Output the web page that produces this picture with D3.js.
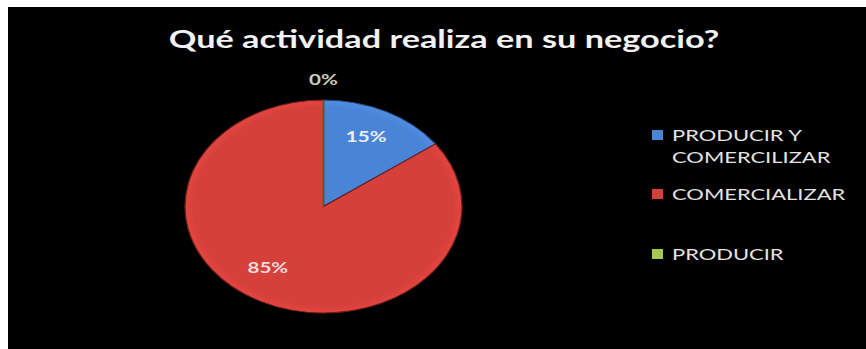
<!DOCTYPE html>
<html>
<head>
<meta charset="utf-8">
<script src="https://cdn.jsdelivr.net/npm/d3@7"></script>
<style>
  html, body { margin: 0; padding: 0; background: #ffffff; }
  svg { display: block; }
  text { font-family: Lato, "Open Sans", "DejaVu Sans", sans-serif; }
</style>
</head>
<body>
<svg id="chart" width="866" height="349"></svg>
<script>
// Survey answers: what activity does the business do?
const title = "Qué actividad realiza en su negocio?";
const categories = ["PRODUCIR Y COMERCILIZAR", "COMERCIALIZAR", "PRODUCIR"];
const legendLines = [["PRODUCIR Y", "COMERCILIZAR"], ["COMERCIALIZAR"], ["PRODUCIR"]];
const values = [15, 85, 0];
const labels = ["15%", "85%", "0%"];

const colors = d3.scaleOrdinal()
  .domain(categories)
  .range(["#4a84d6", "#d5403a", "#a6c94f"]);

const W = 866, H = 349;
const svg = d3.select("#chart");

// black chart area
svg.append("rect")
  .attr("x", 8).attr("y", 7)
  .attr("width", W - 8).attr("height", H - 7)
  .attr("fill", "#000000");

// horizontal stretch applied to every text run
const stretch = 1.37;
function fitText(sel) {
  sel.each(function () {
    const w = this.getComputedTextLength();
    d3.select(this).attr("textLength", w * stretch).attr("lengthAdjust", "spacingAndGlyphs");
  });
}

// title
svg.append("text")
  .attr("x", 444).attr("y", 48)
  .attr("text-anchor", "middle")
  .attr("font-size", 25)
  .attr("font-weight", "bold")
  .attr("fill", "#f2f2f2")
  .text(title)
  .call(fitText);

// pie drawn on a circle, flattened vertically into an ellipse
const cx = 323.5, cy = 206.5, rx = 138.5, ry = 106.5;
const pie = d3.pie().sort(null).value(d => d.value);
const arcs = pie(categories.map((c, i) => ({ cat: c, value: values[i], label: labels[i] })));
const arc = d3.arc().innerRadius(0).outerRadius(rx);

const defs = svg.append("defs");
categories.forEach((c, i) => {
  const g = defs.append("radialGradient")
    .attr("id", "shade" + i)
    .attr("gradientUnits", "userSpaceOnUse")
    .attr("cx", 0).attr("cy", 0).attr("r", rx);
  const base = d3.color(colors(c));
  g.append("stop").attr("offset", "0%").attr("stop-color", base.formatHex());
  g.append("stop").attr("offset", "93%").attr("stop-color", base.formatHex());
  g.append("stop").attr("offset", "100%").attr("stop-color", base.brighter(0.2).formatHex());
});

const pieG = svg.append("g")
  .attr("transform", `translate(${cx},${cy}) scale(1,${ry / rx})`);

pieG.selectAll("path")
  .data(arcs)
  .join("path")
  .attr("d", arc)
  .attr("fill", (d, i) => `url(#shade${i})`)
  .attr("stroke", (d, i) => d3.color(colors(d.data.cat)).darker(2).formatHex())
  .attr("stroke-width", 1.3);

// slice labels, placed on the ellipse (best-fit style nudges)
const labelColors = ["#e8eef8", "#f6dada", "#c9cfb8"];
const labelRadius = [0.73, 0.70, 0];
const labelTurn = [-0.035, 0.14, 0];
function labelAngle(d, i) { return (d.startAngle + d.endAngle) / 2 + labelTurn[i]; }
svg.selectAll("text.slice")
  .data(arcs)
  .join("text")
  .attr("class", "slice")
  .attr("text-anchor", "middle")
  .attr("font-size", 15)
  .attr("font-weight", "bold")
  .attr("fill", (d, i) => labelColors[i])
  .attr("x", (d, i) => cx + Math.sin(labelAngle(d, i)) * rx * labelRadius[i])
  .attr("y", (d, i) => {
    if (d.value === 0) return cy - ry - 15;
    return cy - Math.cos(labelAngle(d, i)) * ry * labelRadius[i] + 5.5;
  })
  .text(d => d.data.label)
  .call(fitText);

// legend
const legendY = [141, 200, 260];
const legend = svg.append("g");
categories.forEach((c, i) => {
  legend.append("rect")
    .attr("x", 652).attr("y", legendY[i] - 11)
    .attr("width", 11).attr("height", 10)
    .attr("fill", colors(c));
  legendLines[i].forEach((line, j) => {
    legend.append("text")
      .attr("x", 672).attr("y", legendY[i] + j * 22)
      .attr("font-size", 16)
      .attr("fill", "#e4e4e4")
      .text(line)
      .call(fitText);
  });
});
</script>
</body>
</html>
